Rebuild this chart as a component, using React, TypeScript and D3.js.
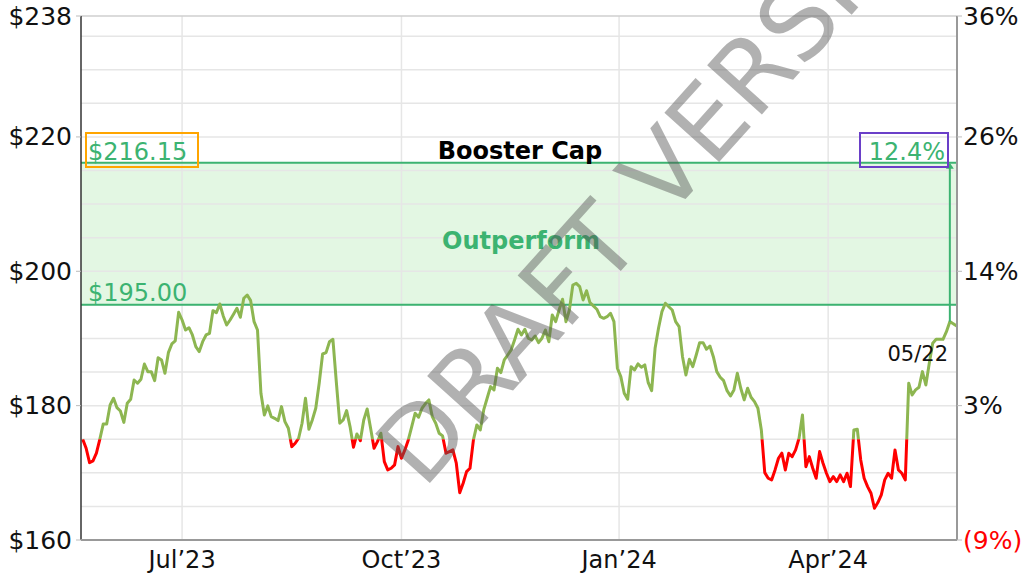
import * as d3 from 'd3';
import React from 'react';

// daily closes (May'23 -> 05/22/24)
const closes: number[] = [
  175.0, 173.66, 171.52, 171.77, 172.92, 175.0, 177.28, 177.28, 180.1, 181.1,
  179.7, 179.2, 177.5, 180.36, 180.95, 183.82, 183.33, 183.93, 186.2, 185.06,
  185.06, 183.72, 187.14, 186.8, 184.82, 187.89, 189.18, 189.63, 193.9, 192.75,
  191.26, 191.6, 190.52, 188.78, 188.04, 189.52, 190.52, 190.77, 194.14, 193.84,
  195.13, 193.35, 192.0,
  192.75, 193.6, 194.49, 193.15, 195.98, 196.47, 195.63, 192.5, 191.26, 181.85,
  178.62, 179.96, 178.36, 178.12, 177.77, 179.85, 177.62, 176.64, 173.9, 174.4,
  175.15, 177.38, 181.1, 176.49, 177.87, 179.61, 183.33, 187.69, 187.89, 189.52,
  189.88, 183.5, 177.38, 177.87, 179.26, 176.88, 173.81, 175.79, 174.79, 177.87,
  179.51, 176.64,
  173.66, 174.64, 175.89, 171.67, 170.43, 170.68, 171.18, 173.9, 172.17, 173.41,
  174.9, 176.88, 178.87, 178.27, 179.61, 180.3, 180.85, 178.36, 177.38, 175.89,
  175.49, 172.92, 173.16, 173.41, 171.43, 167.05, 168.45, 170.18, 170.68, 174.9,
  177.13, 176.38, 179.36, 181.1, 182.83, 182.34, 185.57, 184.91, 186.8, 187.54,
  188.29, 189.78,
  191.37, 190.52, 191.37, 190.03, 189.78, 190.37, 189.38, 190.03, 191.26, 189.52,
  193.5, 192.5, 194.24, 195.83, 192.5, 194.24, 197.96, 198.21, 197.71, 195.73,
  197.11, 195.33, 194.84, 194.35, 193.24, 193.0, 193.24, 193.75, 192.5, 185.57,
  184.32, 181.85, 180.95, 185.8, 185.31, 186.21, 185.71, 186.06, 183.42, 182.23,
  188.54, 191.52, 193.99,
  195.24, 194.73, 194.24, 192.5, 191.76, 187.29, 184.57, 186.9, 185.8, 187.54,
  189.38, 189.38, 188.39, 188.88, 187.29, 185.06, 184.23, 183.72, 182.23, 181.44,
  182.34, 184.82, 182.59, 180.85, 182.59, 181.25, 180.6, 179.61, 176.38, 170.03,
  169.19, 168.94, 170.43, 172.17, 172.92, 170.43, 172.92, 172.41, 173.41, 175.15,
  178.62,
  170.92, 172.41, 170.68, 169.19, 173.16, 171.43, 169.94, 168.69, 169.43, 168.69,
  169.69, 168.69, 169.94, 167.95, 176.38, 176.49, 171.92, 169.19, 167.95, 166.96,
  164.73, 165.57, 166.71, 168.94, 169.94, 169.19, 173.41, 170.43, 169.94, 168.94,
  183.33, 181.59, 182.34, 182.74, 185.06, 183.08, 186.31, 189.29, 189.88, 189.9,
  189.88, 191.0, 192.5, 192.2, 191.86,
];

const monthLabels = ['Jul’23', 'Oct’23', 'Jan’24', 'Apr’24'];
const monthIdx = [29, 93, 156.5, 217.5];

const priceTicks = [160, 180, 200, 220, 238];
const pctLabels = ['(9%)', '3%', '14%', '26%', '36%'];

const boosterCap = 216.15;
const outperformFloor = 195;
const startLevel = 175;
const asOfIdx = 253;
const asOfLabel = '05/22';
const gapLabel = '12.4%';

const W = 1025;
const H = 574;
const left = 81;
const right = 957;
const top = 16;
const bottom = 540;
const font = 'Verdana, "DejaVu Sans", sans-serif';
const green = '#3cb371';

export default function App() {
  const x = d3.scaleLinear().domain([0, closes.length - 1]).range([82.7, 956.7]);
  const y = d3.scaleLinear().domain([160, 238]).range([bottom, top]);

  const line = d3.line<number>()
    .x((_, i) => x(i))
    .y(d => y(d));
  const path = line(closes) || '';

  const grid = d3.range(165, 238, 5);
  const yStart = y(startLevel);
  const yCap = y(boosterCap);
  const yFloor = y(outperformFloor);
  const xAsOf = x(asOfIdx);
  const yAsOf = y(closes[asOfIdx]);

  return (
    <svg width={W} height={H} style={{ position: 'absolute', left: 0, top: 0 }} fontFamily={font}>
      <defs>
        <clipPath id="above">
          <rect x={0} y={0} width={W} height={yStart} />
        </clipPath>
        <clipPath id="below">
          <rect x={0} y={yStart} width={W} height={H - yStart} />
        </clipPath>
      </defs>
      <rect width={W} height={H} fill="#fff" />

      {/* outperform band */}
      <rect x={left} y={yCap} width={right - left} height={yFloor - yCap} fill="#e3f7e3" />

      {/* grid */}
      {grid.map(v => (
        <line key={v} x1={left} x2={right} y1={y(v)} y2={y(v)} stroke="#e6e6e6" strokeWidth={1.5} />
      ))}
      {monthIdx.map((m, i) => (
        <line key={i} x1={x(m)} x2={x(m)} y1={top} y2={bottom} stroke="#e6e6e6" strokeWidth={1.5} />
      ))}
      <line x1={left} x2={right} y1={top} y2={top} stroke="#cfcfcf" strokeWidth={1.5} />

      {/* band edges */}
      <line x1={left} x2={right} y1={yCap} y2={yCap} stroke={green} strokeWidth={2} />
      <line x1={left} x2={right} y1={yFloor} y2={yFloor} stroke={green} strokeWidth={2} />

      {/* price line */}
      <path d={path} fill="none" stroke="#8db651" strokeWidth={3} strokeLinejoin="round" clipPath="url(#above)" />
      <path d={path} fill="none" stroke="#ff0000" strokeWidth={3} strokeLinejoin="round" clipPath="url(#below)" />

      {/* gap marker */}
      <line x1={xAsOf} x2={xAsOf} y1={yCap + 4} y2={yAsOf} stroke={green} strokeWidth={2} />
      <path d={`M${xAsOf - 4},${yCap + 6}L${xAsOf},${yCap}L${xAsOf + 4},${yCap + 6}Z`} fill={green} />
      <text x={948} y={361} textAnchor="end" fontSize={21} fill="#111">{asOfLabel}</text>

      {/* axes */}
      <line x1={left} x2={left} y1={top} y2={bottom} stroke="#333" strokeWidth={1.5} />
      <line x1={right} x2={right} y1={top} y2={bottom} stroke="#999" strokeWidth={2} />
      <line x1={left} x2={right} y1={bottom} y2={bottom} stroke="#999" strokeWidth={2} />

      {priceTicks.map((v, i) => (
        <g key={v}>
          <line x1={left - 5} x2={left} y1={y(v)} y2={y(v)} stroke="#bbb" />
          <line x1={right} x2={right + 5} y1={y(v)} y2={y(v)} stroke="#bbb" />
          <text x={72} y={y(v)} textAnchor="end" dominantBaseline="central" fontSize={25} fill="#111">
            {'$' + v}
          </text>
          <text x={963} y={y(v)} dominantBaseline="central" fontSize={25}
            fill={pctLabels[i].startsWith('(') ? '#ff0000' : '#111'}>
            {pctLabels[i]}
          </text>
        </g>
      ))}
      {monthLabels.map((m, i) => (
        <text key={m} x={x(monthIdx[i])} y={568} textAnchor="middle" fontSize={24} fill="#111">{m}</text>
      ))}

      {/* annotations */}
      <rect x={86} y={133} width={112} height={34} fill="none" stroke="#ffa500" strokeWidth={2} />
      <text x={88} y={160} fontSize={24} fill={green}>{'$' + boosterCap.toFixed(2)}</text>
      <text x={88} y={301} fontSize={24} fill={green}>{'$' + outperformFloor.toFixed(2)}</text>
      <rect x={860} y={133} width={88} height={34} fill="none" stroke="#6a3fc8" strokeWidth={2} />
      <text x={945} y={160} textAnchor="end" fontSize={24} fill={green}>{gapLabel}</text>
      <text x={520} y={159} textAnchor="middle" fontSize={24} fontWeight="bold" fill="#000">Booster Cap</text>
      <text x={521} y={249} textAnchor="middle" fontSize={24} fontWeight="bold" fill={green}>Outperform</text>

      {/* watermark */}
      <text x={670} y={164} textAnchor="middle" dominantBaseline="central" fontSize={101}
        fill="#555" opacity={0.45} transform="rotate(-48 670 164)">DRAFT VERSION</text>
    </svg>
  );
}
